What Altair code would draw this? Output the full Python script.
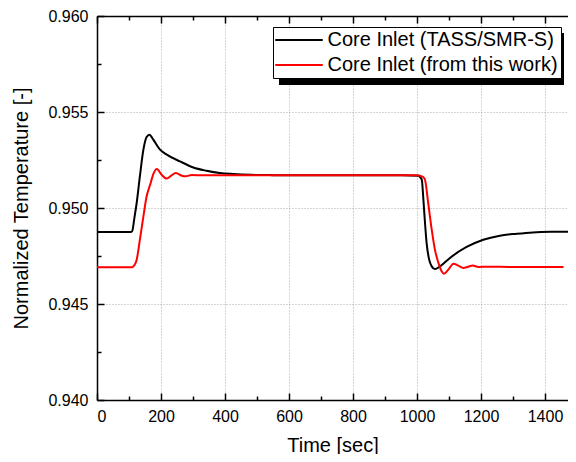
import altair as alt
import pandas as pd

# ---- data ----
tass_t = [0, 105, 110, 117, 124, 134, 145, 155, 164, 176, 197, 218, 259, 301, 342, 384, 426, 480, 550, 650,
          800, 950, 1005, 1010, 1015, 1020, 1025, 1030, 1038, 1046, 1056, 1072, 1103, 1155, 1207, 1259, 1312,
          1362, 1420, 1500]
tass_v = [0.94875, 0.94875, 0.94880, 0.94950, 0.95026, 0.95165, 0.95304, 0.95370, 0.95382, 0.95356, 0.95304,
          0.95278, 0.95243, 0.95211, 0.95194, 0.95182, 0.95177, 0.95173, 0.95171, 0.95170, 0.95170, 0.95170,
          0.95168, 0.95160, 0.95147, 0.95043, 0.94922, 0.94818, 0.94731, 0.94696, 0.94682, 0.94696, 0.94740,
          0.94797, 0.94835, 0.94856, 0.94866, 0.94873, 0.94876, 0.94877]

work_t = [0, 110, 113, 118, 124, 134, 145, 155, 166, 176, 187, 202, 218, 233, 246, 265, 277, 296, 330, 400,
          600, 800, 1000, 1015, 1020, 1025, 1035, 1046, 1056, 1067, 1077, 1084, 1098, 1114, 1129, 1145, 1160,
          1174, 1192, 1218, 1300, 1400, 1458]
work_v = [0.94692, 0.94692, 0.94695, 0.94705, 0.94731, 0.94835, 0.94956, 0.95060, 0.95121, 0.95177, 0.95203,
          0.95173, 0.95153, 0.95170, 0.95182, 0.95168, 0.95165, 0.95172, 0.95170, 0.95170, 0.95170, 0.95170,
          0.95170, 0.95165, 0.95160, 0.95147, 0.95026, 0.94887, 0.94783, 0.94714, 0.94670, 0.94658, 0.94679,
          0.94710, 0.94700, 0.94688, 0.94694, 0.94700, 0.94693, 0.94694, 0.94693, 0.94693, 0.94693]

series_names = ["Core Inlet (TASS/SMR-S)", "Core Inlet (from this work)"]
series_colors = ["#000000", "#ff0000"]

x_major = [0, 200, 400, 600, 800, 1000, 1200, 1400]
x_minor = [100, 300, 500, 700, 900, 1100, 1300]
y_major = [0.940, 0.945, 0.950, 0.955, 0.960]
y_minor = [0.9425, 0.9475, 0.9525, 0.9575]

rows = []
for t, v in zip(tass_t, tass_v):
    rows.append({"t": t, "v": v, "s": series_names[0]})
for t, v in zip(work_t, work_v):
    rows.append({"t": t, "v": v, "s": series_names[1]})
df = pd.DataFrame(rows)

W, H = 471, 384
FONT = "Liberation Sans"

xs = alt.Scale(domain=[0, 1471.875], nice=False, zero=False)
ys = alt.Scale(domain=[0.940, 0.960], nice=False, zero=False)

base = alt.Chart(df)

main = base.mark_line(strokeWidth=2, interpolate="monotone", clip=True).encode(
    x=alt.X("t:Q", scale=xs, axis=alt.Axis(
        values=x_major, format="d", title="Time [sec]", labelFontSize=16, titleFontSize=20,
        labelFont=FONT, titleFont=FONT, labelColor="black", titleColor="black", titleFontWeight="normal",
        ticks=False, tickSize=0, labelPadding=8, titlePadding=11,
        domain=True, domainColor="black", domainWidth=1.5,
        grid=True, gridColor="#aaaaaa", gridDash=[1, 2], gridWidth=1)),
    y=alt.Y("v:Q", scale=ys, axis=alt.Axis(
        values=y_major, format=".3f", title="Normalized Temperature [-]", labelFontSize=16, titleFontSize=20,
        labelFont=FONT, titleFont=FONT, labelColor="black", titleColor="black", titleFontWeight="normal",
        ticks=False, tickSize=0, labelPadding=9, titlePadding=16,
        domain=True, domainColor="black", domainWidth=1.5,
        grid=True, gridColor="#aaaaaa", gridDash=[1, 2], gridWidth=1)),
    color=alt.Color("s:N", scale=alt.Scale(domain=series_names, range=series_colors), legend=alt.Legend(
        title=None, orient="none", legendX=176, legendY=11, strokeColor="black", fillColor="white",
        padding=2.5, labelFontSize=20, labelFont=FONT, labelColor="black", labelLimit=500,
        symbolType="M-2.5,0H2.5", symbolSize=361, symbolStrokeWidth=2, symbolOffset=13,
        labelOffset=18, rowPadding=4)),
)


def tick_axis_x(orient, vals, size, domain=False):
    return alt.X("t:Q", scale=xs, axis=alt.Axis(
        orient=orient, offset=-H, values=vals, labels=False, domain=domain, domainColor="black",
        domainWidth=1.5, grid=False, ticks=True, tickSize=size, tickWidth=1.5, tickColor="black",
        title=None))


def tick_axis_y(orient, vals, size):
    return alt.Y("v:Q", scale=ys, axis=alt.Axis(
        orient=orient, offset=-W, values=vals, labels=False, domain=False, grid=False, ticks=True,
        tickSize=size, tickWidth=1.5, tickColor="black", title=None))


l2 = base.mark_point(opacity=0, size=0).encode(
    x=tick_axis_x("top", x_major, 7), y=tick_axis_y("right", y_major, 7))
l3 = base.mark_point(opacity=0, size=0).encode(
    x=tick_axis_x("top", x_minor, 4), y=tick_axis_y("right", y_minor, 4))
l4 = base.mark_point(opacity=0, size=0).encode(
    x=tick_axis_x("bottom", x_major, 7, domain=True), y=alt.Y("v:Q", scale=ys, axis=None))
l5 = base.mark_point(opacity=0, size=0).encode(
    x=tick_axis_x("bottom", x_minor, 4), y=alt.Y("v:Q", scale=ys, axis=None))

shadow = alt.Chart(pd.DataFrame({"k": [0]})).mark_rect(color="black").encode(
    x=alt.value(182), x2=alt.value(467), y=alt.value(17), y2=alt.value(69))

chart = alt.layer(shadow, main, l2, l3, l4, l5).resolve_axis(x="independent", y="independent").properties(
    width=W, height=H,
    autosize=alt.AutoSizeParams(type="none"),
    padding={"left": 89, "top": 8, "right": 0, "bottom": 54},
).configure_view(stroke=None).configure(background="white")

chart.save("out.html", embed_options={"renderer": "svg", "actions": False})
